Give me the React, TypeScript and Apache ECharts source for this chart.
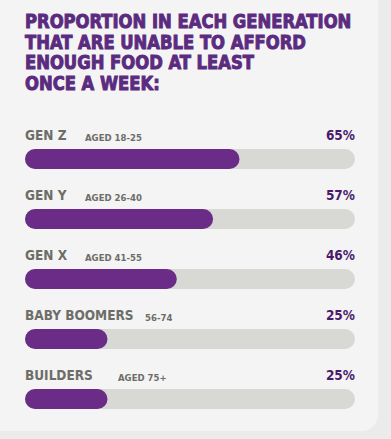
import React, { useEffect, useRef } from "react";
import * as echarts from "echarts";

const titleLines = [
  "PROPORTION IN EACH GENERATION",
  "THAT ARE UNABLE TO AFFORD",
  "ENOUGH FOOD AT LEAST",
  "ONCE A WEEK:",
];
const generations = ["GEN Z", "GEN Y", "GEN X", "BABY BOOMERS", "BUILDERS"];
const ages = ["AGED 18-25", "AGED 26-40", "AGED 41-55", "56-74", "AGED 75+"];
const percentages = [65, 57, 46, 25, 25];
const fullScale = [100, 100, 100, 100, 100];

const FONT = "'DejaVu Sans Condensed', 'DejaVu Sans', sans-serif";
const nameWidths = [60, 60, 60, 120, 93];

export default function App() {
  const ref = useRef<HTMLDivElement>(null);
  useEffect(() => {
    document.body.style.margin = "0";
    const chart = echarts.init(ref.current!, null, { renderer: "svg" });
    const rich: Record<string, any> = {};
    nameWidths.forEach((w, i) => {
      rich["n" + i] = {
        fontFamily: FONT,
        fontWeight: "bold",
        fontSize: 13.5,
        color: "#6d6d67",
        width: w,
        verticalAlign: "bottom",
      };
    });
    rich.age = {
      fontFamily: FONT,
      fontWeight: "bold",
      fontSize: 9.5,
      color: "#6d6d67",
      verticalAlign: "bottom",
    };
    chart.setOption({
      animation: false,
      backgroundColor: "#ebebeb",
      graphic: [
        {
          type: "rect",
          z: -10,
          shape: { x: -20, y: -20, width: 398, height: 451, r: [0, 0, 16, 0] },
          style: { fill: "#f4f4f4" },
        },
        {
          type: "text",
          x: 25,
          y: 11,
          scaleX: 0.96,
          style: {
            text: titleLines.join("\n"),
            fontFamily: FONT,
            fontWeight: "bold",
            fontSize: 19,
            lineHeight: 20.7,
            fill: "#5b2b80",
            stroke: "#5b2b80",
            lineWidth: 0.9,
          },
        },
      ],
      grid: { left: 25, right: 36, top: 129, bottom: 10 },
      xAxis: { type: "value", min: 0, max: 100, show: false },
      yAxis: {
        type: "category",
        data: generations,
        inverse: true,
        axisLine: { show: false },
        axisTick: { show: false },
        axisLabel: {
          inside: true,
          margin: 0,
          padding: [0, 0, 48, 0],
          formatter: (v: string, i: number) =>
            "{n" + i + "|" + v + "}{age|" + ages[i] + "}",
          rich,
        },
      },
      series: [
        {
          type: "bar",
          data: fullScale,
          barWidth: 20,
          silent: true,
          itemStyle: { color: "#d8d9d5", borderRadius: 10 },
          label: {
            show: true,
            position: "insideRight",
            distance: 0,
            offset: [0, -24],
            fontFamily: FONT,
            fontWeight: "bold",
            fontSize: 13.5,
            color: "#4a1b6c",
            formatter: (p: any) => percentages[p.dataIndex] + "%",
          },
        },
        {
          type: "bar",
          data: percentages,
          barWidth: 20,
          barGap: "-100%",
          itemStyle: { color: "#6a2c86", borderRadius: 10 },
        },
      ],
    });
    return () => chart.dispose();
  }, []);
  return (
    <div
      ref={ref}
      style={{ position: "absolute", left: 0, top: 0, width: 391, height: 439 }}
    />
  );
}
